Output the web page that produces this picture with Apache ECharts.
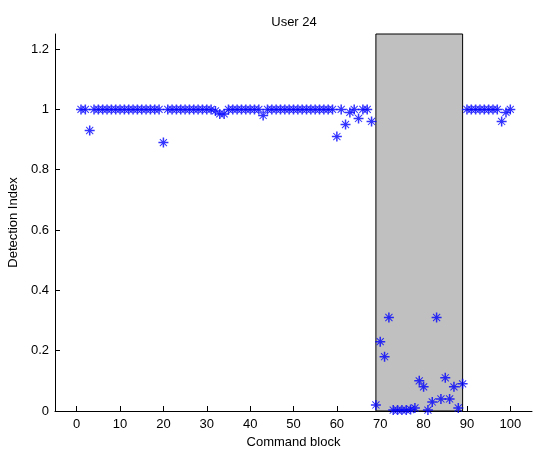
<!DOCTYPE html>
<html>
<head>
<meta charset="utf-8">
<script src="https://cdn.jsdelivr.net/npm/echarts@6/dist/echarts.min.js"></script>
<style>
  html, body { margin: 0; padding: 0; background: #fff; }
  #chart { width: 533px; height: 450px; }
</style>
</head>
<body>
<div id="chart"></div>
<script>
// command blocks 1..100
const blocks = [
  1, 2, 3, 4, 5, 6, 7, 8, 9, 10,
  11, 12, 13, 14, 15, 16, 17, 18, 19, 20,
  21, 22, 23, 24, 25, 26, 27, 28, 29, 30,
  31, 32, 33, 34, 35, 36, 37, 38, 39, 40,
  41, 42, 43, 44, 45, 46, 47, 48, 49, 50,
  51, 52, 53, 54, 55, 56, 57, 58, 59, 60,
  61, 62, 63, 64, 65, 66, 67, 68, 69, 70,
  71, 72, 73, 74, 75, 76, 77, 78, 79, 80,
  81, 82, 83, 84, 85, 86, 87, 88, 89, 90,
  91, 92, 93, 94, 95, 96, 97, 98, 99, 100
]
// detection index per block
const detection = [
  1, 1, 0.93, 1, 1, 1, 1, 1, 1, 1,
  1, 1, 1, 1, 1, 1, 1, 1, 1, 0.89,
  1, 1, 1, 1, 1, 1, 1, 1, 1, 1,
  1, 0.995, 0.985, 0.985, 1, 1, 1, 1, 1, 1,
  1, 1, 0.98, 1, 1, 1, 1, 1, 1, 1,
  1, 1, 1, 1, 1, 1, 1, 1, 1, 0.91,
  1, 0.95, 0.99, 1, 0.97, 1, 1, 0.96, 0.02, 0.23,
  0.18, 0.31, 0.003, 0.003, 0.003, 0.003, 0.005, 0.01, 0.10, 0.08,
  0.003, 0.03, 0.31, 0.04, 0.11, 0.04, 0.08, 0.01, 0.09, 1,
  1, 1, 1, 1, 1, 1, 1, 0.96, 0.99, 1
]
// shaded block range (masquerade segment)
const regionStart = 69
const regionEnd = 89

const xTicks = [0, 10, 20, 30, 40, 50, 60, 70, 80, 90, 100]
const yTicks = [0, 0.2, 0.4, 0.6, 0.8, 1, 1.2]

// asterisk marker like matlab '*' (plus drawn heavier than the diagonals)
const asterisk = 'path://M8.5,0h3v20h-3z M0,8.5h20v3h-20z M2.2,3.6l1.4,-1.4l14.2,14.2l-1.4,1.4z M16.4,2.2l1.4,1.4l-14.2,14.2l-1.4,-1.4z'

const font = 'Liberation Sans'
const chart = echarts.init(document.getElementById('chart'))
chart.setOption({
  animation: false,
  title: {
    text: 'User 24',
    left: 289, top: 11, textAlign: 'center',
    textStyle: { fontFamily: font, fontSize: 13, fontWeight: 'normal', color: '#000' }
  },
  grid: { left: 55, right: 1, top: 34, bottom: 39, outerBoundsMode: 'none', containLabel: false },
  xAxis: {
    type: 'value',
    min: -5, max: 105,
    name: 'Command block',
    nameLocation: 'middle',
    nameGap: 25,
    nameTextStyle: { fontFamily: font, fontSize: 13, color: '#000' },
    axisLine: { onZero: false, lineStyle: { color: '#000', width: 1 } },
    axisTick: { inside: true, length: 5, customValues: xTicks, lineStyle: { color: '#000' } },
    axisLabel: { customValues: xTicks, fontFamily: font, fontSize: 13, color: '#000', margin: 7 },
    splitLine: { show: false }
  },
  yAxis: {
    type: 'value',
    min: 0, max: 1.25,
    name: 'Detection Index',
    nameLocation: 'middle',
    nameGap: 33,
    nameTextStyle: { fontFamily: font, fontSize: 13, color: '#000' },
    axisLine: { show: true, onZero: false, lineStyle: { color: '#000', width: 1 } },
    axisTick: { show: true, inside: true, length: 5, customValues: yTicks, lineStyle: { color: '#000' } },
    axisLabel: { customValues: yTicks, fontFamily: font, fontSize: 13, color: '#000', margin: 6 },
    splitLine: { show: false }
  },
  series: [
    {
      type: 'line',
      data: [],
      z: 1,
      silent: true,
      markArea: {
        silent: true,
        itemStyle: { color: '#c0c0c0', borderColor: '#000', borderWidth: 1 },
        data: [[{ xAxis: regionStart, yAxis: 0 }, { xAxis: regionEnd, yAxis: 1.25 }]]
      }
    },
    {
      type: 'scatter',
      z: 3,
      symbol: asterisk,
      symbolSize: 10,
      itemStyle: { color: '#0000ff' },
      data: blocks.map((b, i) => [b, detection[i]])
    }
  ]
})
</script>
</body>
</html>
